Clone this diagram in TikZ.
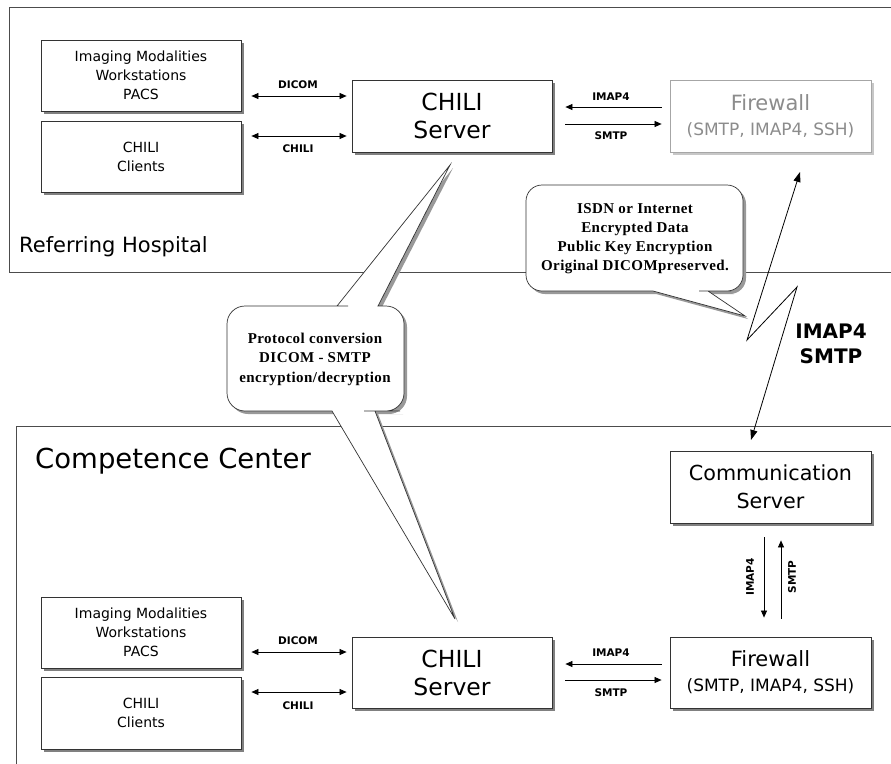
\documentclass[tikz,border=0pt]{standalone}
\usepackage{fontspec}
\setmainfont{DejaVu Sans}
\newfontfamily\serifb{Liberation Serif}[LetterSpace=3]
\usetikzlibrary{arrows.meta}
\pgfdeclarelayer{bg}
\pgfdeclarelayer{shad}
\pgfsetlayers{bg,shad,main}
\tikzset{
  panel/.style={draw=black!70, line width=0.8pt},
  box/.style={draw=black!80, line width=0.8pt, fill=white, minimum width=200pt,
    minimum height=71pt, inner sep=0pt, align=center},
  greybox/.style={box, draw=black!35, text=black!45},
  shadowfill/.style={fill=black!50},
  small/.style={font=\fontsize{14}{19}\selectfont},
  big/.style={font=\fontsize{23.5}{28}\selectfont},
  fw/.style={font=\fontsize{17}{25}\selectfont},
  lbl/.style={font=\fontsize{10.5}{12}\selectfont\bfseries, inner sep=1pt},
  biglbl/.style={font=\fontsize{20}{25}\selectfont\bfseries, align=center},
  bubtext/.style={font=\serifb\fontsize{15}{19}\selectfont\bfseries, align=center},
  arr/.style={line width=0.7pt, -{Triangle[length=7pt,width=6pt]}},
  dbl/.style={line width=0.7pt, {Triangle[length=7pt,width=6pt]}-{Triangle[length=7pt,width=6pt]}},
  bolt/.style={line width=0.8pt, {Triangle[length=10pt,width=7pt]}-{Triangle[length=10pt,width=7pt]}},
  bubble/.style={draw=black!80, line width=0.7pt, fill=white,
    preaction={fill=black!40, transform canvas={shift={(3pt,-3pt)}}}},
}
\begin{document}
\begin{tikzpicture}[x=1pt,y=-1pt]
\useasboundingbox (0,0) rectangle (891,763);
\begin{pgfonlayer}{bg}
\fill[white] (0,0) rectangle (891,763);
\end{pgfonlayer}

% panels
\begin{scope}
\clip (0,0) rectangle (891,763);
\draw[panel] (9,7) rectangle (905,272);
\draw[panel] (16,426) rectangle (905,780);
\end{scope}
\node[anchor=west, font=\fontsize{21}{24}\selectfont, inner sep=0pt] (refh) at (19,247) {Referring Hospital};
\node[anchor=west, font=\fontsize{27.5}{32}\selectfont, inner sep=0pt] (compc) at (35,461) {Competence Center};

% top boxes
\node[box, small] (imgT) at (141,75.5) {Imaging Modalities\\Workstations\\PACS};
\node[box, small] (cliT) at (141,156.5) {CHILI\\Clients};
\node[box, big, minimum height=72pt] (srvT) at (452,116) {CHILI\\Server};
\node[greybox, fw, minimum width=201pt, minimum height=72pt] (fwT) at (770.5,116)
  {{\fontsize{21}{25}\selectfont Firewall}\\(SMTP, IMAP4, SSH)};

% bottom boxes
\node[box, small] (imgB) at (141,632.5) {Imaging Modalities\\Workstations\\PACS};
\node[box, small, minimum height=72pt] (cliB) at (141,713) {CHILI\\Clients};
\node[box, big] (srvB) at (452,672.5) {CHILI\\Server};
\node[box, fw, minimum width=201pt] (fwB) at (770.5,672.5)
  {{\fontsize{21}{25}\selectfont Firewall}\\(SMTP, IMAP4, SSH)};
\node[box, font=\fontsize{20.7}{28}\selectfont, minimum width=201pt, minimum height=72pt] (comm) at (770.5,487) {Communication\\Server};

% box shadows
\begin{pgfonlayer}{shad}
\foreach \n in {imgT,cliT,srvT,imgB,cliB,srvB,fwB,comm}
  \fill[shadowfill] ([shift={(3pt,-3pt)}]\n.south west) rectangle ([shift={(3pt,-3pt)}]\n.north east);
\fill[black!22] ([shift={(3pt,-3pt)}]fwT.south west) rectangle ([shift={(3pt,-3pt)}]fwT.north east);
\end{pgfonlayer}

% top arrows
\draw[dbl] ([shift={(10pt,-20.5pt)}]imgT.east) -- ([shift={(-5pt,20pt)}]srvT.west);
\draw[dbl] ([shift={(10pt,20.5pt)}]cliT.east) -- ([shift={(-5pt,-20pt)}]srvT.west);
\draw[arr] ([shift={(-8pt,9pt)}]fwT.west) -- ([shift={(13pt,9pt)}]srvT.east);
\draw[arr] ([shift={(13pt,-8pt)}]srvT.east) -- ([shift={(-8pt,-8pt)}]fwT.west);
\node[lbl] (dicomT) at (298,85) {DICOM};
\node[lbl] (chiliT) at (298,149) {CHILI};
\node[lbl] (imapT) at (611,97) {IMAP4};
\node[lbl] (smtpT) at (611,136) {SMTP};

% bottom arrows
\draw[dbl] ([shift={(10pt,-19.5pt)}]imgB.east) -- ([shift={(-5pt,20.5pt)}]srvB.west);
\draw[dbl] ([shift={(10pt,21pt)}]cliB.east) -- ([shift={(-5pt,-19.5pt)}]srvB.west);
\draw[arr] ([shift={(-8pt,8.5pt)}]fwB.west) -- ([shift={(13pt,8.5pt)}]srvB.east);
\draw[arr] ([shift={(13pt,-7.5pt)}]srvB.east) -- ([shift={(-8pt,-7.5pt)}]fwB.west);
\node[lbl] (dicomB) at (298,641) {DICOM};
\node[lbl] (chiliB) at (298,706) {CHILI};
\node[lbl] (imapB) at (611,653) {IMAP4};
\node[lbl] (smtpB) at (611,693) {SMTP};

% vertical arrows
\draw[arr] ([shift={(-6.5pt,-14pt)}]comm.south) -- ([shift={(-6.5pt,19pt)}]fwB.north);
\draw[arr] ([shift={(10.5pt,18pt)}]fwB.north) -- ([shift={(10.5pt,-17pt)}]comm.south);
\node[lbl, rotate=90] (imapV) at (750,577) {IMAP4};
\node[lbl, rotate=90] (smtpV) at (792,577) {SMTP};

% left bubble
\draw[bubble] (227,360) [rounded corners=18pt] -- (227,306) -- (330,306)
  [sharp corners] -- (337,306) -- (450,165) -- (378,306) -- (385,306)
  [rounded corners=18pt] -- (404,306) -- (404,411) -- (382,411)
  [sharp corners] -- (375,411) -- (455,619) -- (332,411) -- (325,411)
  [rounded corners=18pt] -- (227,411) -- cycle;
\node[bubtext, font=\serifb\fontsize{15}{19.5}\selectfont\bfseries] (bub2) at (315,359)
  {Protocol conversion\\DICOM - SMTP\\encryption/decryption};

% right bubble
\draw[bubble] (600,291) [rounded corners=16pt] -- (526,291) -- (526,185) -- (743,185)
  -- (743,291) -- (715,291) [sharp corners] -- (708,291) -- (745,316) -- (653,291)
  -- (645,291) [rounded corners=16pt] -- cycle;
\node[bubtext] (bub1) at (635,238.5)
  {ISDN or Internet\\Encrypted Data\\Public Key Encryption\\Original DICOMpreserved.};

% lightning link
\coordinate (L1) at (800,172);
\coordinate (L2) at (747,340);
\coordinate (L3) at (797,287);
\coordinate (L4) at (751,440);
\draw[bolt] (L1) -- (L2) -- (L3) -- (L4);
\node[biglbl] (link) at (831,344) {IMAP4\\SMTP};
\end{tikzpicture}
\end{document}
